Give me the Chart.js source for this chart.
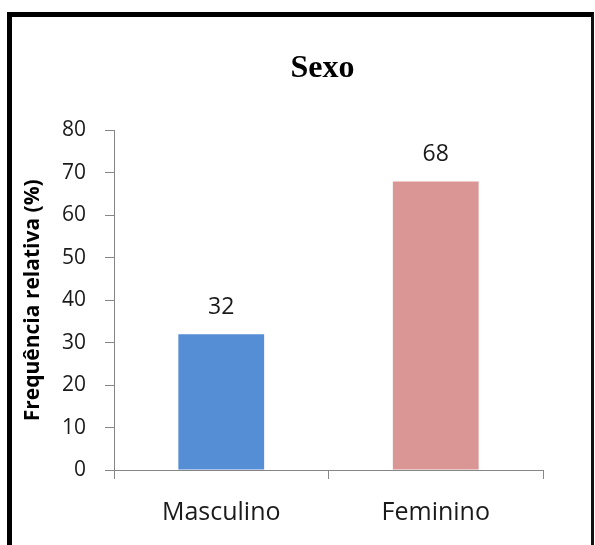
<!DOCTYPE html>
<html>
<head>
<meta charset="utf-8">
<script src="https://cdn.jsdelivr.net/npm/chart.js@4/dist/chart.umd.min.js"></script>
<style>
  html, body { margin: 0; padding: 0; background: #ffffff; overflow: hidden; width: 595px; height: 545px; }
  #frame { position: absolute; left: 7px; top: 12px; width: 579px; height: 600px;
           border-left: 5px solid #000; border-top: 5px solid #000; border-right: 3px solid #111; box-sizing: content-box; }
  #c { position: absolute; left: 0; top: 0; }
</style>
</head>
<body>
<div id="frame"></div>
<canvas id="c" width="595" height="545"></canvas>
<script>
const chartTitle = 'Sexo';
const yAxisTitle = 'Frequência relativa (%)';
const categories = ['Masculino', 'Feminino'];
const values = [32, 68];
const barColors = ['#558ED5', '#D99694'];
const yTicks = [0, 10, 20, 30, 40, 50, 60, 70, 80];

const axisGray = '#868686';
const textColor = '#1a1a1a';

const valueLabels = {
  id: 'valueLabels',
  afterDatasetsDraw(chart) {
    const ctx = chart.ctx;
    ctx.save();
    ctx.font = '23px "Open Sans"';
    ctx.fillStyle = textColor;
    ctx.textAlign = 'center';
    ctx.textBaseline = 'middle';
    chart.getDatasetMeta(0).data.forEach((bar, i) => {
      ctx.fillText(String(values[i]), bar.x, bar.y - 27);
    });
    ctx.restore();
  }
};

const titlePlugin = {
  id: 'titlePlugin',
  afterDraw(chart) {
    const ctx = chart.ctx;
    const a = chart.chartArea;
    ctx.save();
    ctx.font = 'bold 32px "Liberation Serif", "Times New Roman", serif';
    ctx.fillStyle = '#000';
    ctx.textAlign = 'center';
    ctx.textBaseline = 'alphabetic';
    ctx.fillText(chartTitle, (a.left + a.right) / 2 - 6, a.top - 54);
    ctx.restore();
  }
};

new Chart(document.getElementById('c'), {
  type: 'bar',
  data: {
    labels: categories,
    datasets: [{
      data: values,
      backgroundColor: barColors,
      borderWidth: 0,
      barPercentage: 0.4,
      categoryPercentage: 1.0
    }]
  },
  options: {
    responsive: false,
    animation: false,
    devicePixelRatio: 1,
    layout: { padding: { left: 0, right: 52, top: 130.5, bottom: 0 } },
    plugins: {
      legend: { display: false },
      tooltip: { enabled: false },
      title: { display: false }
    },
    scales: {
      x: {
        offset: true,
        grid: { display: true, drawOnChartArea: false, offset: true, tickLength: 9, color: axisGray, lineWidth: 1 },
        border: { display: true, color: axisGray, width: 1 },
        ticks: { color: textColor, font: { family: '"Open Sans"', size: 25 }, padding: 19, maxRotation: 0 },
        afterFit(scale) { scale.height = 75; }
      },
      y: {
        min: 0,
        max: 80,
        afterBuildTicks(scale) { scale.ticks = yTicks.map(v => ({ value: v })); },
        grid: { display: true, drawOnChartArea: false, tickLength: 9, color: axisGray, lineWidth: 1 },
        border: { display: true, color: axisGray, width: 1 },
        ticks: { color: textColor, font: { family: '"Open Sans"', size: 21 }, padding: 19 },
        title: {
          display: true,
          text: yAxisTitle,
          color: '#000',
          font: { family: '"Open Sans"', size: 21, weight: 'bold' },
          padding: { top: 20, bottom: 0 }
        },
        afterFit(scale) { scale.width = 114; }
      }
    }
  },
  plugins: [valueLabels, titlePlugin]
});
</script>
</body>
</html>
